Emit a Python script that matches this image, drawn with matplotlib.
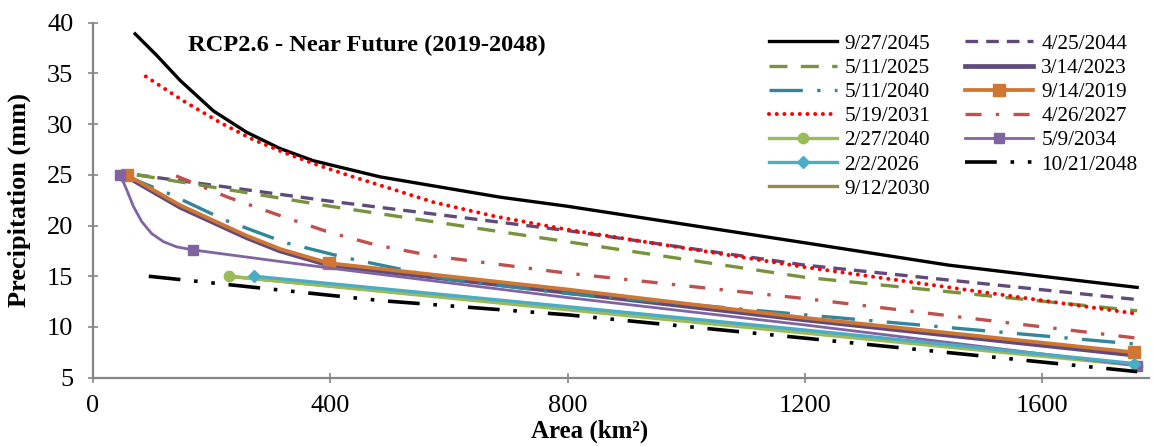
import matplotlib
matplotlib.use("Agg")
import matplotlib.pyplot as plt

plt.rcParams['font.family'] = ['Liberation Serif', 'DejaVu Serif']

# ---- data ----
x_0927_2045 = [71, 107, 147, 203, 259, 315, 371, 484, 686, 800, 1000, 1200, 1442, 1600, 1760]
y_0927_2045 = [38.9, 36.8, 34.3, 31.3, 29.2, 27.6, 26.4, 24.8, 22.8, 21.9, 20.1, 18.3, 16.1, 15.0, 13.9]

x_0425_2044 = [74, 400, 800, 1200, 1760]
y_0425_2044 = [25.0, 22.4, 19.5, 16.1, 12.7]

x_0511_2025 = [74, 400, 800, 1200, 1760]
y_0511_2025 = [25.0, 21.9, 18.4, 14.9, 11.6]

x_0314_2023 = [55, 147, 203, 259, 315, 397, 800, 1200, 1760]
y_0314_2023 = [24.9, 21.8, 20.3, 18.8, 17.5, 16.1, 13.4, 10.7, 7.2]

x_0511_2040 = [50, 126, 224, 325, 428, 600, 800, 1200, 1760]
y_0511_2040 = [25.0, 23.2, 20.5, 18.3, 16.8, 14.7, 13.3, 11.2, 8.3]

x_0914_2019 = [57, 147, 203, 259, 315, 397, 800, 1200, 1755]
y_0914_2019 = [25.0, 22.0, 20.5, 19.0, 17.7, 16.3, 13.7, 10.9, 7.5]
mk_0914_2019 = [0, 5, 8]

x_0519_2031 = [89, 152, 216, 269, 322, 377, 433, 504, 574, 678, 800, 1200, 1760]
y_0519_2031 = [34.7, 32.3, 30.1, 28.5, 27.2, 26.0, 24.9, 23.6, 22.3, 20.9, 19.6, 15.9, 11.3]

x_0426_2027 = [140, 227, 324, 400, 476, 573, 800, 1200, 1760]
y_0426_2027 = [24.9, 22.8, 20.8, 19.3, 18.1, 17.0, 15.3, 12.8, 8.9]

x_0227_2040 = [229, 800, 1200, 1760]
y_0227_2040 = [15.0, 11.7, 9.4, 6.2]
mk_0227_2040 = [0, 3]

x_0509_2034 = [46, 57, 68, 82, 99, 119, 141, 168, 400, 800, 1200, 1760]
y_0509_2034 = [25.0, 23.5, 21.9, 20.4, 19.2, 18.4, 17.9, 17.6, 15.8, 12.9, 10.2, 6.2]
mk_0509_2034 = [0, 7, 11]

x_0202_2026 = [272, 800, 1200, 1755]
y_0202_2026 = [15.0, 12.0, 9.7, 6.4]
mk_0202_2026 = [0, 3]

x_1021_2048 = [94, 485, 800, 1200, 1760]
y_1021_2048 = [15.0, 12.6, 11.2, 8.9, 5.6]

x_0912_2030 = [229, 800, 1200, 1760]
y_0912_2030 = [15.0, 11.8, 9.5, 6.3]

x_ticks = [0, 400, 800, 1200, 1600]
y_ticks = [5, 10, 15, 20, 25, 30, 35, 40]

# ---- figure ----
fig = plt.figure(figsize=(11.53, 4.46), dpi=100)
ax = fig.add_axes([93/1153, 1 - 377.7/446, (1149-93)/1153, (377.7-22.7)/446])

h = {}
h["9/27/2045"], = ax.plot(x_0927_2045, y_0927_2045, color='black', lw=2.4)
h["4/25/2044"], = ax.plot(x_0425_2044, y_0425_2044, color='#604A7B', lw=2.4,
                          linestyle=(0, (3.8, 2.4)))
h["5/11/2025"], = ax.plot(x_0511_2025, y_0511_2025, color='#77933C', lw=2.4,
                          linestyle=(0, (5.4, 4.0)))
h["3/14/2023"], = ax.plot(x_0314_2023, y_0314_2023, color='#604A7B', lw=3.4)
h["5/11/2040"], = ax.plot(x_0511_2040, y_0511_2040, color='#31859C', lw=2.4,
                          linestyle=(0, (10, 4.3, 1, 4.3)))
h["9/14/2019"], = ax.plot(x_0914_2019, y_0914_2019, color='#CF7632', lw=2.7,
                          marker='s', markersize=8.5, markevery=mk_0914_2019)
h["5/19/2031"], = ax.plot(x_0519_2031, y_0519_2031, color='#FF0000', lw=2.9,
                          linestyle=(0, (0.01, 1.9)), dash_capstyle='round')
h["4/26/2027"], = ax.plot(x_0426_2027, y_0426_2027, color='#C0504D', lw=2.4,
                          linestyle=(0, (4.8, 4.3, 1, 4.3)))
h["9/12/2030"], = ax.plot(x_0912_2030, y_0912_2030, color='#948A54', lw=2.4)
h["2/27/2040"], = ax.plot(x_0227_2040, y_0227_2040, color='#9BBB59', lw=2.4,
                          marker='o', markersize=7.5, markevery=mk_0227_2040)
h["5/9/2034"], = ax.plot(x_0509_2034, y_0509_2034, color='#8064A2', lw=2.0,
                         marker='s', markersize=6.5, markevery=mk_0509_2034)
h["2/2/2026"], = ax.plot(x_0202_2026, y_0202_2026, color='#4BACC6', lw=2.4,
                         marker='D', markersize=6.5, markevery=mk_0202_2026)
h["10/21/2048"], = ax.plot(x_1021_2048, y_1021_2048, color='black', lw=2.6,
                           linestyle=(0, (8.8, 3.8, 1, 3.8, 1, 3.8)))

order = ["9/27/2045", "5/11/2025", "5/11/2040", "5/19/2031", "2/27/2040", "2/2/2026",
         "9/12/2030", "4/25/2044", "3/14/2023", "9/14/2019", "4/26/2027", "5/9/2034",
         "10/21/2048"]
ax.legend([h[k] for k in order], order, ncol=2, loc='upper right',
          bbox_to_anchor=(0.997, 0.992), frameon=False, fontsize=15.3,
          handlelength=3.2, labelspacing=0.2, columnspacing=1.63,
          handletextpad=0.38, borderaxespad=0.1, borderpad=0.3)

ax.set_xlim(0, 1780)
ax.set_ylim(5, 40)
ax.set_xticks(x_ticks)
ax.set_yticks(y_ticks)
ax.tick_params(direction='inout', length=7.2, width=1.2, color='#868686',
               labelsize=19)
ax.tick_params(axis='y', pad=10.5)
ax.tick_params(axis='x', pad=9)
for s in ['top', 'right']:
    ax.spines[s].set_visible(False)
for s in ['left', 'bottom']:
    ax.spines[s].set_color('#868686')
    ax.spines[s].set_linewidth(1.6)

ax.set_xlabel("Area (km²)", fontsize=18, fontweight='bold', va='top')
ax.xaxis.set_label_coords(0.4706, -0.1175)
ax.set_ylabel("Precipitation (mm)", fontsize=19, fontweight='bold')
ax.yaxis.set_label_coords(-0.0587, 0.5)
ax.text(0.090, 0.937, "RCP2.6 - Near Future (2019-2048)", transform=ax.transAxes,
        fontsize=17.6, fontweight='bold', va='center', ha='left')

fig.savefig("out.png", dpi=100)
